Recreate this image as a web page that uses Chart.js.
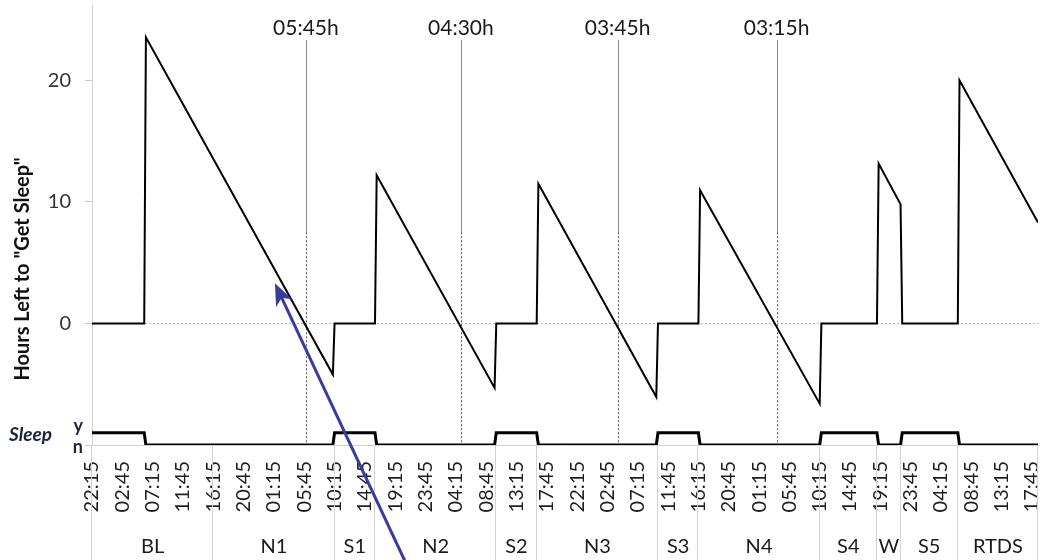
<!DOCTYPE html>
<html>
<head>
<meta charset="utf-8">
<script src="https://cdn.jsdelivr.net/npm/chart.js@4.4.1/dist/chart.umd.min.js"></script>
<style>
html,body{margin:0;padding:0;background:#ffffff;}
#wrap{width:1040px;height:560px;position:relative;}
canvas{display:block;}
</style>
</head>
<body>
<div id="wrap"><canvas id="c" width="1040" height="560"></canvas></div>
<script>
// ---------- data (hours since 22:15 on the first day) ----------
const tickLabels = ['22:15','02:45','07:15','11:45','16:15','20:45','01:15','05:45','10:15','14:45','19:15','23:45','04:15','08:45','13:15','17:45',
                    '22:15','02:45','07:15','11:45','16:15','20:45','01:15','05:45','10:15','14:45','19:15','23:45','04:15','08:45','13:15','17:45'];
const tickStepHours = 4.5;

const groupNames  = ['BL','N1','S1','N2','S2','N3','S3','N4','S4','W','S5','RTDS'];
const groupBounds = [0, 18, 36, 42, 60, 66, 84, 90, 108, 116.5, 120, 128.5, 140.4];

// "Hours left to get sleep" series (breakpoints)
const hoursT    = [0, 7.75, 8.0, 35.75, 36.0, 42.0, 42.25, 59.75, 60.0, 66.0, 66.25, 83.75, 84.0, 90.0, 90.25, 108.0, 108.25, 116.5, 116.75, 120.0, 120.25, 128.5, 128.75, 140.4];
const hoursLeft = [0, 0, 23.55, -4.2, 0, 0, 12.2, -5.3, 0, 0, 11.5, -6.05, 0, 0, 10.95, -6.6, 0, 0, 13.15, 9.8, 0, 0, 20.0, 8.3];

// Sleep (y / n) series
const sleepT     = [0, 7.75, 8.0, 35.75, 36.0, 42.0, 42.25, 59.75, 60.0, 66.0, 66.25, 83.75, 84.0, 90.0, 90.25, 108.0, 108.25, 116.5, 116.75, 120.0, 120.25, 128.5, 128.75, 140.4];
const sleepState = ['y','y','n','n','y','y','n','n','y','y','n','n','y','y','n','n','y','y','n','n','y','y','n','n'];
const sleepLevel = { y: -9, n: -10 };

// Zero-crossing markers
const markerT      = [31.75, 54.75, 78.0, 101.6];
const markerLabels = ['05:45h', '04:30h', '03:45h', '03:15h'];

const yTickValues = [0, 10, 20];
const xMax = 140.4, yMin = -10, yMax = 26.2;

// annotation arrow (data coordinates)
const arrowTip  = { t: 27.15, v: 3.3 };
const arrowTail = { t: 46.4,  v: -19.5 };

// ---------- chart ----------
const FONT = 'Lato';
const hoursData = hoursT.map((t, i) => ({ x: t, y: hoursLeft[i] }));
const sleepData = sleepT.map((t, i) => ({ x: t, y: sleepLevel[sleepState[i]] }));
const xTicks = tickLabels.map((_, i) => i * tickStepHours);

const overlay = {
  id: 'overlay',
  beforeDatasetsDraw(chart) {
    const { ctx, scales: { x, y } } = chart;
    const ySplit = y.getPixelForValue(7.5);
    const yBot = y.getPixelForValue(yMin);
    markerT.forEach((t) => {
      const px = Math.round(x.getPixelForValue(t)) + 0.5;
      ctx.save();
      ctx.lineWidth = 1;
      ctx.strokeStyle = '#8a8a8a';
      ctx.beginPath(); ctx.moveTo(px, 40); ctx.lineTo(px, ySplit); ctx.stroke();
      ctx.setLineDash([2, 2]);
      ctx.strokeStyle = '#555555';
      ctx.beginPath(); ctx.moveTo(px, ySplit); ctx.lineTo(px, yBot); ctx.stroke();
      ctx.restore();
    });
  },
  afterDraw(chart) {
    const { ctx, scales: { x, y } } = chart;
    ctx.save();
    // marker labels
    ctx.fillStyle = '#1a1a1a';
    ctx.font = '21px ' + FONT;
    ctx.textAlign = 'center';
    ctx.textBaseline = 'alphabetic';
    markerT.forEach((t, i) => {
      ctx.fillText(markerLabels[i], x.getPixelForValue(t), 35);
    });
    // group separators + names
    const axisBottom = y.getPixelForValue(yMin);
    ctx.strokeStyle = '#d4d4d4';
    ctx.lineWidth = 1;
    groupBounds.forEach((b) => {
      const px = Math.round(x.getPixelForValue(b)) - 0.5;
      ctx.beginPath(); ctx.moveTo(px, axisBottom); ctx.lineTo(px, 560); ctx.stroke();
    });
    ctx.fillStyle = '#1a1a1a';
    ctx.font = '20px ' + FONT;
    groupNames.forEach((n, i) => {
      const cx = (x.getPixelForValue(groupBounds[i]) + x.getPixelForValue(groupBounds[i + 1])) / 2;
      ctx.fillText(n, cx, 553);
    });
    // y / n labels
    ctx.fillStyle = '#1c2340';
    ctx.font = 'bold 18px ' + FONT;
    ctx.textAlign = 'right';
    ctx.fillText('y', 83, y.getPixelForValue(sleepLevel.y) - 1);
    ctx.fillText('n', 83, y.getPixelForValue(sleepLevel.n) + 8);
    // Sleep label
    ctx.font = 'italic bold 19px ' + FONT;
    ctx.textAlign = 'left';
    ctx.fillText('Sleep', 9, 441);
    // y axis title
    ctx.save();
    ctx.translate(29, 269);
    ctx.rotate(-Math.PI / 2);
    ctx.fillStyle = '#111111';
    ctx.font = 'bold 20px ' + FONT;
    ctx.textAlign = 'center';
    ctx.textBaseline = 'alphabetic';
    ctx.fillText('Hours Left to "Get Sleep"', 0, 0);
    ctx.restore();
    // arrow
    const tx = x.getPixelForValue(arrowTip.t), ty = y.getPixelForValue(arrowTip.v);
    const sx = x.getPixelForValue(arrowTail.t), sy = y.getPixelForValue(arrowTail.v);
    const len = Math.hypot(tx - sx, ty - sy);
    const dx = (tx - sx) / len, dy = (ty - sy) / len;
    const hl = 22, hw = 9;
    const bx = tx - dx * hl, by = ty - dy * hl;
    ctx.strokeStyle = '#383c9c';
    ctx.fillStyle = '#383c9c';
    ctx.lineWidth = 3;
    ctx.beginPath(); ctx.moveTo(sx, sy); ctx.lineTo(tx - dx * 10, ty - dy * 10); ctx.stroke();
    ctx.beginPath();
    ctx.moveTo(tx, ty);
    ctx.lineTo(bx - dy * hw, by + dx * hw);
    ctx.lineTo(tx - dx * 16, ty - dy * 16);
    ctx.lineTo(bx + dy * hw, by - dx * hw);
    ctx.closePath();
    ctx.fill();
    ctx.restore();
  }
};

new Chart(document.getElementById('c'), {
  type: 'line',
  data: {
    datasets: [
      { label: 'Hours Left', data: hoursData, borderColor: '#000000', borderWidth: 2, pointRadius: 0, tension: 0 },
      { label: 'Sleep', data: sleepData, borderColor: '#000000', borderWidth: 3, pointRadius: 0, tension: 0 }
    ]
  },
  options: {
    responsive: false,
    animation: false,
    devicePixelRatio: 1,
    layout: { padding: { top: 5, right: 2, left: 0, bottom: 0 } },
    plugins: { legend: { display: false }, tooltip: { enabled: false }, title: { display: false } },
    scales: {
      x: {
        type: 'linear', min: 0, max: xMax,
        afterBuildTicks: (s) => { s.ticks = xTicks.map((v) => ({ value: v })); },
        afterFit: (s) => { s.height = 115; s.paddingLeft = 0; s.paddingRight = 0; s.paddingTop = 0; s.paddingBottom = 0; },
        grid: { display: false, drawTicks: false },
        border: { display: true, color: '#d0d0d0', width: 1 },
        ticks: {
          autoSkip: false, minRotation: 90, maxRotation: 90, padding: 16,
          color: '#1e1e1e', font: { family: FONT, size: 20 },
          callback: (v, i) => tickLabels[i]
        }
      },
      y: {
        min: yMin, max: yMax,
        afterBuildTicks: (s) => { s.ticks = [sleepLevel.n, sleepLevel.y].concat(yTickValues).map((v) => ({ value: v })); },
        afterFit: (s) => { s.width = 92; s.paddingLeft = 0; s.paddingRight = 0; s.paddingTop = 0; s.paddingBottom = 0; },
        grid: {
          color: (c) => (c.tick && c.tick.value === 0) ? '#b5b5b5' : 'rgba(0,0,0,0)',
          tickColor: (c) => (c.tick && c.tick.value === sleepLevel.y) ? 'rgba(0,0,0,0)' : '#c8c8c8',
          tickLength: 7, lineWidth: 1
        },
        border: { display: true, color: '#d0d0d0', width: 1, dash: [2, 2] },
        ticks: {
          padding: 14, color: '#333333', font: { family: FONT, size: 20 },
          callback: (v) => (yTickValues.includes(v) ? String(v) : '')
        }
      }
    }
  },
  plugins: [overlay]
});
</script>
</body>
</html>
